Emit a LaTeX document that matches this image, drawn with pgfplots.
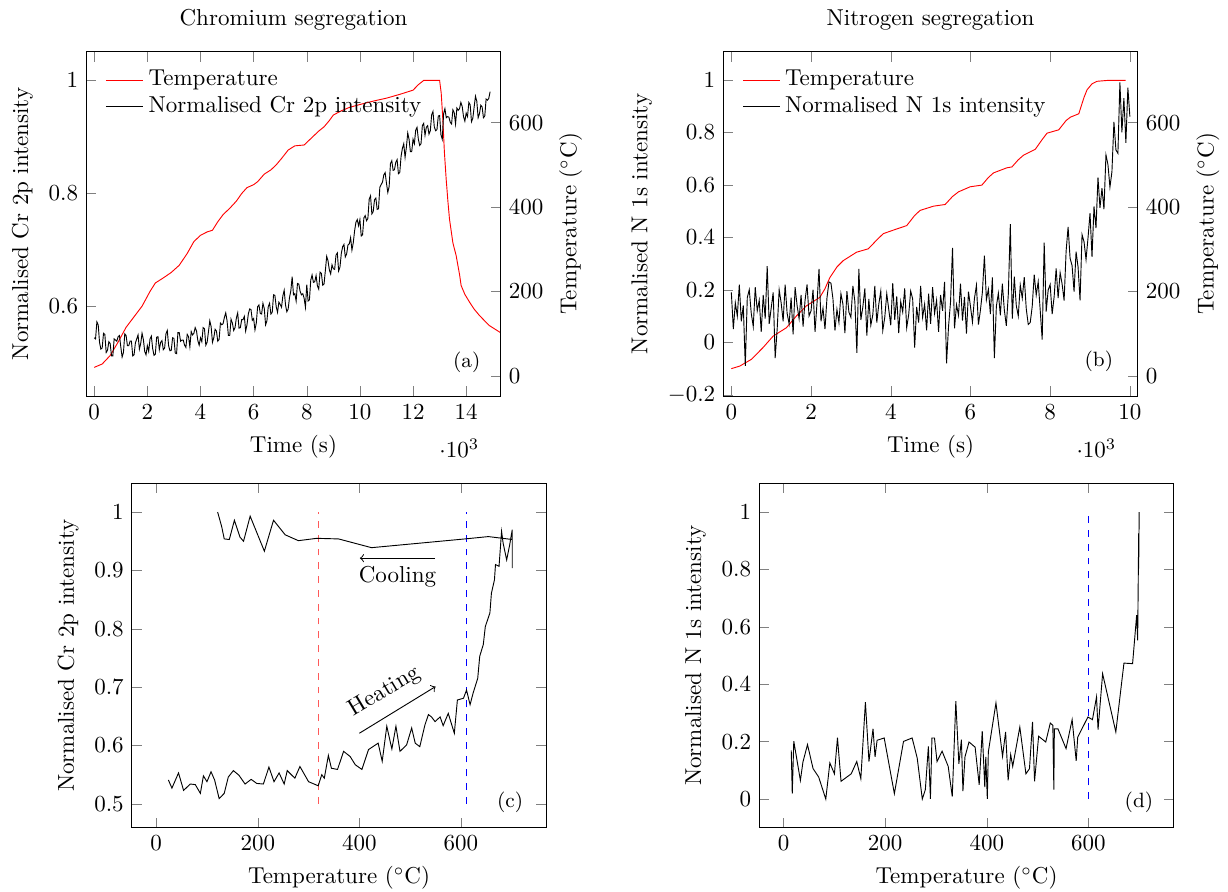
\documentclass[border=0pt]{standalone}
\usepackage{pgfplots}
\pgfplotsset{compat=1.18}

\pgfplotsset{
  panel/.style={scale only axis, width=180.2pt, height=149.7pt},
}
\tikzset{tag/.style={font=\small}, key/.style={anchor=west, inner sep=0pt}}

\begin{document}
\begin{tikzpicture}
\path[use as bounding box] (0,0) rectangle (533.9pt,-387.8pt);

% ---------------- (a) chromium, temperature on the right
\begin{axis}[panel, at={(37.5pt,-172.2pt)}, anchor=south west,
    xmin=-300, xmax=15300, ymin=-48, ymax=768,
    axis x line=none, axis y line*=right,
    ytick={0,200,400,600}, ylabel={Temperature ($^\circ$C)}]
  \addplot[red] coordinates {
    (0,20) (300,28) (600,48) (900,80) (1200,115) (1500,140) (1800,165)
    (2100,200) (2300,220) (2600,232) (2900,245) (3200,262) (3500,290)
    (3750,318) (4000,333) (4250,341) (4450,345) (4650,365) (4850,382)
    (5100,397) (5350,414) (5550,432) (5750,446) (6000,453) (6150,460)
    (6400,478) (6650,488) (6850,500) (7050,515) (7300,535) (7550,545)
    (7900,547) (8050,556) (8250,568) (8450,580) (8650,590) (8850,605)
    (9000,618) (9300,628) (9600,636) (10000,643) (10500,651) (11000,658)
    (11500,667) (12000,677) (12200,690) (12400,700) (13000,700)
    (13060,670) (13120,609) (13180,530) (13246,467) (13310,415)
    (13371,372) (13500,315) (13622,285) (13750,240) (13810,214)
    (13950,193) (14123,175) (14300,158) (14499,143) (14700,130)
    (14875,119) (15100,110) (15300,102)};
\end{axis}
\begin{axis}[panel, at={(37.5pt,-172.2pt)}, anchor=south west,
    xmin=-300, xmax=15300, ymin=0.441, ymax=1.0496,
    xtick={0,2000,...,14000}, scaled x ticks=base 10:-3,
    ytick={0.6,0.8,1}, ytick pos=left,
    xlabel={Time (s)}, ylabel={Normalised Cr 2p intensity},
    title={Chromium segregation}]
  \addplot[black] coordinates {
    (0,0.544)(50,0.542)(100,0.572)(150,0.567)(200,0.536)(250,0.524)(300,0.526)(350,0.552)(400,0.550)(450,0.518)
    (500,0.522)(550,0.537)(600,0.534)(650,0.512)(700,0.512)(750,0.542)(800,0.540)(850,0.538)(900,0.546)(950,0.548)
    (1000,0.528)(1050,0.510)(1100,0.518)(1150,0.551)(1200,0.548)(1250,0.530)(1300,0.530)(1350,0.538)(1400,0.538)(1450,0.512)
    (1500,0.514)(1550,0.535)(1600,0.542)(1650,0.549)(1700,0.524)(1750,0.534)(1800,0.552)(1850,0.541)(1900,0.520)(1950,0.514)
    (2000,0.530)(2050,0.520)(2100,0.542)(2150,0.547)(2200,0.525)(2250,0.513)(2300,0.515)(2350,0.545)(2400,0.546)(2450,0.523)
    (2500,0.536)(2550,0.539)(2600,0.523)(2650,0.526)(2700,0.551)(2750,0.557)(2800,0.530)(2850,0.521)(2900,0.522)(2950,0.544)
    (3000,0.543)(3050,0.517)(3100,0.516)(3150,0.553)(3200,0.553)(3250,0.538)(3300,0.540)(3350,0.540)(3400,0.531)(3450,0.527)
    (3500,0.550)(3550,0.546)(3600,0.528)(3650,0.555)(3700,0.549)(3750,0.552)(3800,0.562)(3850,0.556)(3900,0.539)(3950,0.531)
    (4000,0.544)(4050,0.537)(4100,0.562)(4150,0.560)(4200,0.531)(4250,0.536)(4300,0.555)(4350,0.574)(4400,0.564)(4450,0.536)
    (4500,0.544)(4550,0.559)(4600,0.556)(4650,0.538)(4700,0.541)(4750,0.570)(4800,0.567)(4850,0.569)(4900,0.580)(4950,0.588)
    (5000,0.574)(5050,0.548)(5100,0.548)(5150,0.577)(5200,0.570)(5250,0.557)(5300,0.562)(5350,0.579)(5400,0.588)(5450,0.561)
    (5500,0.562)(5550,0.576)(5600,0.576)(5650,0.582)(5700,0.556)(5750,0.567)(5800,0.586)(5850,0.595)(5900,0.594)(5950,0.575)
    (6000,0.578)(6050,0.558)(6100,0.570)(6150,0.599)(6200,0.602)(6250,0.587)(6300,0.586)(6350,0.605)(6400,0.596)(6450,0.567)
    (6500,0.574)(6550,0.599)(6600,0.605)(6650,0.586)(6700,0.589)(6750,0.620)(6800,0.619)(6850,0.599)(6900,0.589)(6950,0.607)
    (7000,0.603)(7050,0.598)(7100,0.618)(7150,0.628)(7200,0.602)(7250,0.590)(7300,0.595)(7350,0.615)(7400,0.627)(7450,0.652)
    (7500,0.620)(7550,0.622)(7600,0.609)(7650,0.640)(7700,0.639)(7750,0.626)(7800,0.620)(7850,0.622)(7900,0.614)(7950,0.598)
    (8000,0.638)(8050,0.609)(8100,0.611)(8150,0.646)(8200,0.655)(8250,0.642)(8300,0.643)(8350,0.654)(8400,0.636)(8450,0.630)
    (8500,0.660)(8550,0.658)(8600,0.637)(8650,0.639)(8700,0.663)(8750,0.688)(8800,0.680)(8850,0.664)(8900,0.657)(8950,0.673)
    (9000,0.666)(9050,0.665)(9100,0.690)(9150,0.694)(9200,0.662)(9250,0.669)(9300,0.693)(9350,0.705)(9400,0.709)(9450,0.687)
    (9500,0.692)(9550,0.708)(9600,0.710)(9650,0.721)(9700,0.699)(9750,0.712)(9800,0.733)(9850,0.748)(9900,0.753)(9950,0.742)
    (10000,0.753)(10050,0.724)(10100,0.726)(10150,0.756)(10200,0.760)(10250,0.751)(10300,0.755)(10350,0.789)(10400,0.795)(10450,0.763)
    (10500,0.767)(10550,0.788)(10600,0.791)(10650,0.771)(10700,0.772)(10750,0.810)(10800,0.815)(10850,0.819)(10900,0.832)(10950,0.836)
    (11000,0.817)(11050,0.801)(11100,0.811)(11150,0.852)(11200,0.857)(11250,0.840)(11300,0.841)(11350,0.854)(11400,0.859)(11450,0.834)
    (11500,0.836)(11550,0.865)(11600,0.879)(11650,0.887)(11700,0.863)(11750,0.881)(11800,0.906)(11850,0.895)(11900,0.873)(11950,0.873)
    (12000,0.895)(12050,0.887)(12100,0.911)(12150,0.916)(12200,0.895)(12250,0.884)(12300,0.887)(12350,0.919)(12400,0.923)(12450,0.902)
    (12500,0.916)(12550,0.919)(12600,0.904)(12650,0.910)(12700,0.938)(12750,0.944)(12800,0.917)(12850,0.910)(12900,0.912)(12950,0.936)
    (13000,0.937)(13050,0.903)(13100,0.895)(13150,0.940)(13200,0.949)(13250,0.933)(13300,0.935)(13350,0.934)(13400,0.925)(13450,0.922)
    (13500,0.947)(13550,0.942)(13600,0.922)(13650,0.950)(13700,0.946)(13750,0.949)(13800,0.960)(13850,0.953)(13900,0.935)(13950,0.927)
    (14000,0.941)(14050,0.935)(14100,0.960)(14150,0.956)(14200,0.926)(14250,0.932)(14300,0.952)(14350,0.971)(14400,0.962)(14450,0.933)
    (14500,0.940)(14550,0.955)(14600,0.952)(14650,0.933)(14700,0.936)(14750,0.966)(14800,0.964)(14850,0.967)(14900,0.979)};
  % legend key
  \draw[red] (axis description cs:0.0475,0.917) -- (axis description cs:0.136,0.917);
  \node[key] at (axis description cs:0.1495,0.917) {Temperature};
  \draw[black] (axis description cs:0.0475,0.840) -- (axis description cs:0.136,0.840);
  \node[key] at (axis description cs:0.1495,0.840) {Normalised Cr 2p intensity};
  \node[tag] at (rel axis cs:0.918,0.099) {(a)};
\end{axis}

% ---------------- (b) nitrogen, temperature on the right
\begin{axis}[panel, at={(314.5pt,-172.2pt)}, anchor=south west,
    xmin=-200, xmax=10200, ymin=-48, ymax=768,
    axis x line=none, axis y line*=right,
    ytick={0,200,400,600}, ylabel={Temperature ($^\circ$C)}]
  \addplot[red] coordinates {
    (0,17) (210,23) (503,39) (796,67) (1048,94) (1383,114) (1635,142)
    (1886,166) (2221,186) (2347,206) (2473,233) (2650,258) (2808,273)
    (3143,293) (3437,301) (3650,322) (3814,337) (4149,348) (4401,356)
    (4600,380) (4736,392) (5071,402) (5365,406) (5550,425) (5700,436)
    (5993,448) (6287,452) (6450,470) (6580,481) (6915,493) (7041,495)
    (7200,512) (7334,523) (7628,537) (7800,560) (7921,575) (8215,583)
    (8400,605) (8508,613) (8718,621) (8850,660) (8927,678) (9050,692)
    (9179,698) (9430,700) (9891,700)};
\end{axis}
\begin{axis}[panel, at={(314.5pt,-172.2pt)}, anchor=south west,
    xmin=-200, xmax=10200, ymin=-0.205, ymax=1.107,
    xtick={0,2000,...,10000}, scaled x ticks=base 10:-3,
    ytick={-0.2,0,0.2,0.4,0.6,0.8,1}, ytick pos=left,
    xlabel={Time (s)}, ylabel={Normalised N 1s intensity},
    title={Nitrogen segregation}]
  \addplot[black] coordinates {
    (0,0.19)(50,0.05)(100,0.15)(150,0.10)(200,0.22)(250,0.08)(300,0.14)(350,-0.09)(400,0.17)(450,0.20)
    (500,0.11)(550,0.06)(600,0.21)(650,0.12)(700,0.16)(750,0.04)(800,0.18)(850,0.09)(900,0.29)(950,0.07)
    (1000,0.13)(1050,0.19)(1100,-0.06)(1150,0.05)(1200,0.20)(1250,0.15)(1300,0.08)(1350,0.22)(1400,0.11)(1450,0.07)
    (1500,0.17)(1550,0.03)(1600,0.21)(1650,0.14)(1700,0.09)(1750,0.18)(1800,0.06)(1850,0.16)(1900,0.22)(1950,0.10)
    (2000,0.12)(2050,0.20)(2100,0.04)(2150,0.15)(2200,0.28)(2250,0.08)(2300,0.13)(2350,0.05)(2400,0.17)(2450,0.23)
    (2500,0.225)(2550,0.165)(2600,0.045)(2650,0.125)(2700,0.075)(2750,0.185)(2800,0.145)(2850,0.035)(2900,0.195)(2950,0.115)
    (3000,0.095)(3050,0.215)(3100,0.155)(3150,-0.04)(3200,0.28)(3250,0.085)(3300,0.135)(3350,0.205)(3400,0.025)(3450,0.165)
    (3500,0.065)(3550,0.105)(3600,0.215)(3650,0.075)(3700,0.145)(3750,0.195)(3800,0.045)(3850,0.095)(3900,0.185)(3950,0.125)
    (4000,0.065)(4050,0.225)(4100,0.085)(4150,0.175)(4200,0.035)(4250,0.155)(4300,0.115)(4350,0.205)(4400,0.055)(4450,0.105)
    (4500,0.195)(4550,0.165)(4600,-0.02)(4650,0.135)(4700,0.075)(4750,0.215)(4800,0.095)(4850,0.145)(4900,0.045)(4950,0.185)
    (5000,0.070)(5050,0.210)(5100,0.110)(5150,0.160)(5200,0.040)(5250,0.180)(5300,0.120)(5350,0.230)(5400,-0.08)(5450,0.060)
    (5500,0.153)(5550,0.36)(5600,0.053)(5650,0.143)(5700,0.103)(5750,0.223)(5800,0.083)(5850,0.173)(5900,0.033)(5950,0.193)
    (6000,0.137)(6050,0.077)(6100,0.167)(6150,0.217)(6200,0.067)(6250,0.122)(6300,0.192)(6350,0.33)(6400,0.162)(6450,0.202)
    (6500,0.107)(6550,0.247)(6600,-0.06)(6650,0.137)(6700,0.187)(6750,0.103)(6800,0.223)(6850,0.123)(6900,0.063)(6950,0.183)
    (7000,0.45)(7050,0.090)(7100,0.250)(7150,0.140)(7200,0.100)(7250,0.218)(7300,0.168)(7350,0.248)(7400,0.128)(7450,0.068)
    (7500,0.075)(7550,0.137)(7600,0.258)(7650,0.180)(7700,0.231)(7750,0.123)(7800,0.01)(7850,0.38)(7900,0.117)(7950,0.199)
    (8000,0.220)(8050,0.107)(8100,0.174)(8150,0.281)(8200,0.168)(8250,0.265)(8300,0.222)(8350,0.159)(8400,0.346)(8450,0.44)
    (8500,0.320)(8550,0.292)(8600,0.193)(8650,0.345)(8700,0.287)(8750,0.16)(8800,0.410)(8850,0.383)(8900,0.315)(8950,0.398)
    (9000,0.492)(9050,0.325)(9100,0.518)(9150,0.435)(9200,0.628)(9250,0.512)(9300,0.587)(9350,0.507)(9400,0.714)(9450,0.677)
    (9500,0.591)(9550,0.650)(9600,0.840)(9650,0.733)(9700,0.72)(9750,0.99)(9800,0.80)(9850,0.93)(9900,0.76)(9950,0.97)
    (10000,0.86)};
  % legend key
  \draw[red] (axis description cs:0.0484,0.917) -- (axis description cs:0.137,0.917);
  \node[key] at (axis description cs:0.1476,0.917) {Temperature};
  \draw[black] (axis description cs:0.0484,0.840) -- (axis description cs:0.137,0.840);
  \node[key] at (axis description cs:0.1476,0.840) {Normalised N 1s intensity};
  \node[tag] at (rel axis cs:0.906,0.1) {(b)};
\end{axis}

% ---------------- (c) Cr intensity against temperature
\begin{axis}[panel, at={(57.3pt,-359.9pt)}, anchor=south west,
    xmin=-48, xmax=768, ymin=0.459, ymax=1.049,
    xtick={0,200,400,600}, ytick={0.5,0.6,0.7,0.8,0.9,1},
    xlabel={Temperature ($^\circ$C)}, ylabel={Normalised Cr 2p intensity}]
  \addplot[red!65, dashed] coordinates {(320,0.5) (320,1)};
  \addplot[blue, dashed] coordinates {(610,0.5) (610,1)};
  \addplot[black] coordinates {
    (24,0.541) (31,0.527) (44,0.553) (54,0.523) (67,0.534) (77,0.533) (87,0.518)
    (93,0.548) (100,0.538) (108,0.555) (115,0.541) (124,0.509) (134,0.518)
    (142,0.546) (152,0.557) (163,0.549) (175,0.534) (187,0.542) (198,0.535)
    (211,0.534) (222,0.563) (232,0.538) (242,0.553) (252,0.534) (258,0.557)
    (273,0.544) (283,0.564) (300,0.538) (319,0.531) (326,0.550) (331,0.544)
    (339,0.583) (345,0.561) (357,0.559) (369,0.590) (382,0.581) (392,0.567)
    (405,0.559) (418,0.593) (437,0.604) (445,0.573) (454,0.633) (464,0.594)
    (472,0.633) (480,0.590) (493,0.601) (503,0.630) (510,0.604) (519,0.598)
    (529,0.635) (536,0.653) (542,0.649) (549,0.641) (559,0.649) (565,0.634)
    (575,0.655) (587,0.621) (593,0.678) (605,0.681) (611,0.695) (618,0.670)
    (624,0.690) (633,0.715) (637,0.753) (644,0.773) (648,0.804) (657,0.827)
    (660,0.861) (666,0.884) (668,0.910) (675,0.907) (680,0.967) (683,0.947)
    (690,0.918) (696,0.944) (701,0.970) (701,0.904) (701,0.953)
    (654,0.958) (608,0.954) (424,0.939) (359,0.954) (316,0.955) (280,0.951)
    (254,0.961) (231,0.986) (213,0.933) (185,0.993) (172,0.950) (165,0.957)
    (154,0.986) (144,0.953) (134,0.954) (129,0.975) (121,1.000)};
  \draw[->] (axis cs:549,0.921) -- (axis cs:401,0.921);
  \node at (axis cs:475,0.890) {Cooling};
  \draw[->] (axis cs:400,0.621) -- (axis cs:550,0.701);
  \node[rotate=31] at (axis cs:450,0.692) {Heating};
  \node[tag] at (rel axis cs:0.913,0.075) {(c)};
\end{axis}

% ---------------- (d) N intensity against temperature
\begin{axis}[panel, at={(330.1pt,-359.9pt)}, anchor=south west,
    xmin=-48, xmax=768, ymin=-0.1, ymax=1.1,
    xtick={0,200,400,600}, ytick={0,0.2,0.4,0.6,0.8,1},
    xlabel={Temperature ($^\circ$C)}, ylabel={Normalised N 1s intensity}]
  \addplot[blue, dashed] coordinates {(600,0) (600,1)};
  \addplot[black] coordinates {
    (15,0.170) (17,0.019) (20,0.202) (33,0.065) (38,0.129) (47,0.190) (58,0.106)
    (69,0.077) (83,0.000) (91,0.126) (100,0.088) (106,0.214) (113,0.062)
    (133,0.088) (144,0.131) (152,0.071) (161,0.338) (168,0.131) (176,0.245)
    (180,0.147) (184,0.205) (198,0.213) (218,0.019) (236,0.201) (253,0.213)
    (263,0.143) (273,0.000) (279,0.033) (285,0.184) (289,0.001) (292,0.213)
    (297,0.213) (302,0.131) (312,0.167) (324,0.114) (332,0.009) (339,0.341)
    (345,0.123) (350,0.207) (353,0.028) (357,0.147) (365,0.199) (377,0.181)
    (385,0.050) (391,0.237) (396,0.042) (398,0.147) (401,0.001) (403,0.164)
    (418,0.335) (431,0.149) (437,0.234) (442,0.065) (447,0.155) (451,0.114)
    (465,0.251) (477,0.088) (484,0.106) (490,0.269) (494,0.062) (502,0.219)
    (516,0.199) (525,0.265) (530,0.257) (532,0.033) (533,0.245) (540,0.245)
    (556,0.176) (568,0.277) (576,0.133) (579,0.216) (599,0.286) (608,0.277)
    (616,0.356) (619,0.242) (628,0.437) (654,0.234) (670,0.474) (687,0.472)
    (695,0.641) (697,0.553) (699,0.926) (699,0.803) (700,1.000)};
  \node[tag] at (rel axis cs:0.916,0.075) {(d)};
\end{axis}
\end{tikzpicture}
\end{document}
